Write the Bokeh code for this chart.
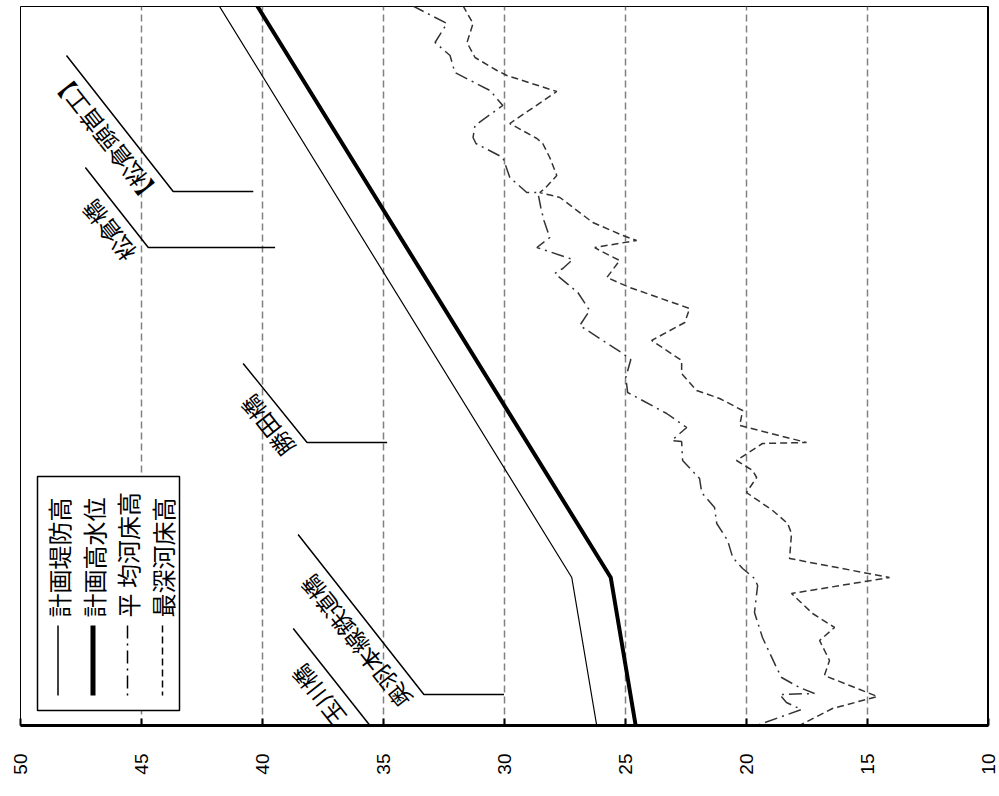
import math
from bokeh.plotting import figure
from bokeh.models import Range1d, Span, FixedTicker
from bokeh.embed import file_html
from bokeh.resources import INLINE
from bokeh.core.properties import value

# ---------------- data (elevation m, distance km from lower end) ----------------
levee_dist = [0.0, 1.48, 7.2]
levee_elev = [26.19, 27.22, 41.80]          # 計画堤防高
hwl_dist = [0.0, 1.48, 7.2]
hwl_elev = [24.58, 25.61, 40.23]            # 計画高水位

avg_dist = [7.20, 7.02, 6.83, 6.70, 6.53, 6.35, 6.20, 6.00, 5.88, 5.82, 5.68, 5.48, 5.33,
            5.33, 5.18, 5.05, 4.88, 4.78, 4.66, 4.57, 4.52, 4.33, 4.15, 4.00, 3.72, 3.66,
            3.48, 3.33, 3.12, 2.98, 2.85, 2.84, 2.65, 2.47, 2.33, 2.18, 2.02, 1.85, 1.68,
            1.57, 1.47, 1.40, 1.13, 0.88, 0.58, 0.48, 0.38, 0.32, 0.31, 0.23, 0.16, 0.00]
avg_elev = [33.82, 32.38, 32.87, 32.25, 32.05, 30.60, 30.07, 31.22, 31.30, 31.18, 30.07, 29.78,
            29.08, 28.62, 28.50, 28.37, 28.13, 28.66, 27.18, 27.59, 27.92, 26.97, 26.48, 26.89,
            25.11, 24.78, 24.99, 24.91, 23.30, 22.47, 23.09, 22.68, 22.64, 21.94, 21.85, 21.32,
            21.23, 20.78, 20.57, 20.16, 19.67, 19.54, 19.67, 19.34, 18.76, 18.55, 17.81, 17.19,
            18.63, 18.35, 17.73, 19.58]   # 平均河床高

deep_dist = [7.20, 7.02, 6.83, 6.68, 6.55, 6.50, 6.34, 6.02, 5.87, 5.82, 5.68, 5.50, 5.37,
             5.33, 5.28, 5.03, 4.90, 4.85, 4.78, 4.75, 4.65, 4.48, 4.38, 4.17, 4.03, 3.85,
             3.65, 3.52, 3.35, 3.27, 3.15, 3.00, 2.83, 2.82, 2.65, 2.55, 2.48, 2.33, 2.15,
             2.02, 1.92, 1.67, 1.48, 1.32, 1.12, 0.98, 0.85, 0.65, 0.50, 0.29, 0.17, 0.00]
deep_elev = [31.72, 31.30, 31.55, 31.22, 30.31, 29.90, 27.84, 29.78, 28.66, 28.42, 28.13, 27.84,
             28.33, 28.54, 27.71, 26.35, 25.11, 24.54, 26.27, 26.06, 25.24, 25.77, 24.82, 22.35,
             22.55, 23.92, 22.68, 22.68, 22.06, 21.11, 20.16, 20.28, 17.52, 19.34, 20.41, 19.75,
             19.58, 20.00, 18.92, 18.30, 18.14, 18.22, 14.09, 18.14, 17.27, 16.36, 16.98, 16.57,
             16.78, 14.59, 16.45, 17.81]  # 最深河床高

bridge_names = ["【松倉頭首工】", "松倉橋", "勝田橋", "奥羽本線鉄道橋", "玉川橋"]
bridge_dist = [5.34, 4.78, 2.83, 0.31, 0.0]
bridge_elev = [43.69, 44.72, 38.16, 33.33, 35.56]
leader_top_dist = [6.70, 5.58, 3.62, 1.91, 0.97]
leader_top_elev = [48.10, 47.32, 40.80, 38.53, 38.73]
leader_end_elev = [40.38, 39.48, 34.85, 30.02, 35.56]

elev_ticks = [50, 45, 40, 35, 30, 25, 20, 15, 10]
legend_labels = ["計画堤防高", "計画高水位", "平 均河床高", "最深河床高"]

# ---------------- layout helpers ----------------
E0, E1 = 50, 10
D0, D1 = 0.0, 7.19
FW, FH = 968, 719
PX_E = FW / (E0 - E1)
PX_D = FH / (D1 - D0)

def E(xp):   # page x pixel -> elevation
    return E0 - (xp - 20) / PX_E

def D(yp):   # page y pixel -> distance
    return (725 - yp) / PX_D

FONT_CJK = "Noto Sans CJK JP"

p = figure(frame_width=FW, frame_height=FH,
           x_range=Range1d(E0, E1), y_range=Range1d(D0, D1),
           output_backend="svg", toolbar_location=None, y_axis_location=None,
           min_border_left=20, min_border_right=10, min_border_top=6, min_border_bottom=8)
p.background_fill_color = "white"
p.border_fill_color = "white"
p.outline_line_color = "black"
p.outline_line_width = 1

ax = p.xaxis[0]
ax.ticker = FixedTicker(ticks=elev_ticks)
ax.major_label_orientation = math.pi / 2
ax.axis_line_width = 3
ax.axis_line_color = "black"
ax.major_tick_in = 7
ax.major_tick_out = 0
ax.major_tick_line_width = 2
ax.minor_tick_line_color = None
ax.major_label_standoff = 28
ax.major_label_text_font = "Liberation Sans"
ax.major_label_text_font_size = "19px"
ax.major_label_text_color = "black"

p.xgrid.grid_line_color = "#808080"
p.xgrid.grid_line_dash = "7 4"
p.xgrid.grid_line_width = 1.5
p.ygrid.grid_line_color = None

p.add_layout(Span(location=E1, dimension="height", line_color="black", line_width=3))

# main lines
p.line(levee_elev, levee_dist, line_color="black", line_width=1.2)
p.line(hwl_elev, hwl_dist, line_color="black", line_width=4)
p.line(avg_elev, avg_dist, line_color="#333333", line_width=1.5, line_dash="13 5 2 5")
p.line(deep_elev, deep_dist, line_color="#333333", line_width=1.5, line_dash="7 4")

# bridge leaders
xs = [[t, b, e] for t, b, e in zip(leader_top_elev, bridge_elev, leader_end_elev)]
ys = [[t, b, b] for t, b in zip(leader_top_dist, bridge_dist)]
p.multi_line(xs=xs, ys=ys, line_color="black", line_width=1.5)

# bridge labels (rotated along leaders)
ang = math.radians(128.3)
along_dir = (math.cos(ang), -math.sin(ang))       # screen px (x right, y down)
perp_dir = (-math.sin(ang), -math.cos(ang))
along_px = [3, 3, 3, 3, 21]
perp_px = [21, 21, 21, 21, 22]
lx, ly = [], []
for be, bd, a, q in zip(bridge_elev, bridge_dist, along_px, perp_px):
    dx = a * along_dir[0] + q * perp_dir[0]
    dy = a * along_dir[1] + q * perp_dir[1]
    lx.append(be - dx / PX_E)
    ly.append(bd - dy / PX_D)
p.text(x=lx, y=ly, text=bridge_names, angle=ang, text_align="left", text_baseline="middle",
       text_font=value(FONT_CJK), text_font_size="23px", text_color="black")

# legend (rotated)
p.quad(left=E(37), right=E(179), top=D(476), bottom=D(710),
       fill_color="white", line_color="black", line_width=1.5)
col_x = [57.5, 92.5, 127, 162]
styles = [(1.5, "solid"), (5, "solid"), (1.5, "13 5 2 5"), (1.5, "7 4")]
for cx, (w, dash) in zip(col_x, styles):
    p.line([E(cx), E(cx)], [D(625), D(695)], line_color="black", line_width=w, line_dash=dash)
p.text(x=[E(c) for c in col_x], y=[D(617)] * 4, text=legend_labels, angle=math.pi / 2,
       text_align="left", text_baseline="middle",
       text_font=value(FONT_CJK), text_font_size="24px", text_color="black")

open("out.html", "w").write(file_html(p, INLINE))
